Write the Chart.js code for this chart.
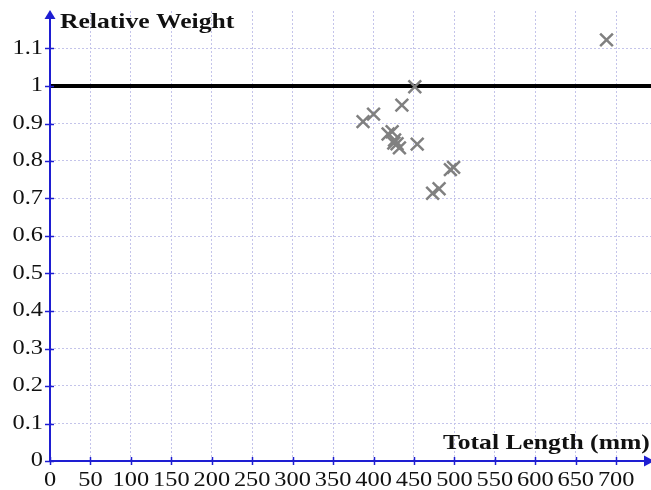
<!DOCTYPE html>
<html>
<head>
<meta charset="utf-8">
<script src="https://cdn.jsdelivr.net/npm/chart.js@4/dist/chart.umd.min.js"></script>
<style>
html,body{margin:0;padding:0;background:#fff;}
#wrap{width:651px;height:490px;}
</style>
</head>
<body>
<div id="wrap"><canvas id="c" width="651" height="490"></canvas></div>
<script>
// Data
const totalLength = [387, 400, 435, 451, 418, 423, 426, 429, 432, 425, 454, 473, 481, 495, 499, 688];
const relativeWeight = [0.905, 0.925, 0.949, 0.998, 0.872, 0.878, 0.856, 0.846, 0.835, 0.848, 0.845, 0.714, 0.726, 0.777, 0.783, 1.123];
const referenceLevel = 1;
const xTitle = 'Total Length (mm)';
const yTitle = 'Relative Weight';
const xTicks = [0, 50, 100, 150, 200, 250, 300, 350, 400, 450, 500, 550, 600, 650, 700];
const yTicks = [0, 0.1, 0.2, 0.3, 0.4, 0.5, 0.6, 0.7, 0.8, 0.9, 1, 1.1];
const xRange = [0, 743];
const yRange = [0, 1.2];

const axisColor = '#1e1ed2';
const serif = '"Liberation Serif", "Times New Roman", serif';
const STRETCH = 1.22;

const points = totalLength.map((x, i) => ({x: x, y: relativeWeight[i]}));
const refLine = [{x: xRange[0], y: referenceLevel}, {x: xRange[1], y: referenceLevel}];

// draw tick labels horizontally stretched like the reference
function patchLabels(s) {
  if (s._stretchPatched) return;
  s._stretchPatched = true;
  s.drawLabels = function (chartArea) {
    const ctx = this.ctx;
    const items = this.getLabelItems(chartArea);
    for (const item of items) {
      const o = item.options;
      ctx.save();
      ctx.translate(o.translation[0], o.translation[1]);
      ctx.scale(STRETCH, 1);
      ctx.font = item.font.string;
      ctx.fillStyle = o.color;
      ctx.textAlign = o.textAlign;
      ctx.textBaseline = o.textBaseline;
      ctx.fillText(String(item.label), 0, item.textOffset);
      ctx.restore();
    }
  };
}

const axesPlugin = {
  id: 'axesPlugin',
  afterDatasetsDraw(chart) {
    const {ctx, chartArea: a, scales: {x, y}} = chart;
    ctx.save();
    ctx.strokeStyle = axisColor;
    ctx.lineWidth = 1.5;
    y.ticks.forEach(t => {
      const py = Math.round(y.getPixelForValue(t.value)) + 0.5;
      ctx.beginPath(); ctx.moveTo(a.left - 5, py); ctx.lineTo(a.left + 4, py); ctx.stroke();
    });
    x.ticks.forEach(t => {
      const px = Math.round(x.getPixelForValue(t.value)) + 0.5;
      ctx.beginPath(); ctx.moveTo(px, a.bottom - 4); ctx.lineTo(px, a.bottom + 4); ctx.stroke();
    });
    ctx.lineWidth = 2;
    ctx.beginPath();
    ctx.moveTo(a.left, a.bottom); ctx.lineTo(a.left, a.top + 6);
    ctx.moveTo(a.left, a.bottom); ctx.lineTo(a.right - 4, a.bottom);
    ctx.stroke();
    ctx.fillStyle = axisColor;
    ctx.beginPath();
    ctx.moveTo(a.left, a.top - 1); ctx.lineTo(a.left - 5.5, a.top + 8); ctx.lineTo(a.left + 5.5, a.top + 8); ctx.closePath(); ctx.fill();
    ctx.beginPath();
    ctx.moveTo(a.right + 3, a.bottom); ctx.lineTo(a.right - 7, a.bottom - 5.5); ctx.lineTo(a.right - 7, a.bottom + 5.5); ctx.closePath(); ctx.fill();
    // titles
    ctx.fillStyle = '#111';
    ctx.font = 'bold 21px ' + serif;
    ctx.textBaseline = 'alphabetic';
    ctx.textAlign = 'left';
    ctx.save(); ctx.translate(a.left + 10, 28); ctx.scale(STRETCH, 1); ctx.fillText(yTitle, 0, 0); ctx.restore();
    ctx.save(); ctx.translate(443, 449); ctx.scale(STRETCH, 1); ctx.fillText(xTitle, 0, 0); ctx.restore();
    ctx.restore();
  }
};

new Chart(document.getElementById('c'), {
  type: 'scatter',
  data: {
    datasets: [
      {
        type: 'line',
        data: refLine,
        borderColor: '#000',
        borderWidth: 4,
        pointRadius: 0,
        fill: false,
        order: 2
      },
      {
        data: points,
        pointStyle: 'crossRot',
        pointRadius: 9,
        pointHoverRadius: 9,
        borderColor: '#808080',
        backgroundColor: '#808080',
        pointBorderWidth: 2.5,
        borderWidth: 2.5,
        order: 1
      }
    ]
  },
  options: {
    responsive: false,
    animation: false,
    events: [],
    layout: {autoPadding: false, padding: {top: 11, right: 0, left: 0, bottom: 0}},
    plugins: {legend: {display: false}, tooltip: {enabled: false}},
    scales: {
      x: {
        type: 'linear',
        min: xRange[0], max: xRange[1],
        afterBuildTicks(s) { s.ticks = xTicks.map(v => ({value: v})); },
        afterFit(s) { s.height = 29; s.paddingLeft = 0; s.paddingRight = 0; patchLabels(s); },
        ticks: {
          autoSkip: false, maxRotation: 0, minRotation: 0, padding: 8,
          color: '#111', font: {family: serif, size: 20},
          callback: v => String(v)
        },
        grid: {color: '#c4c4ea', lineWidth: 1, drawTicks: false},
        border: {display: false, dash: [2, 2]}
      },
      y: {
        type: 'linear',
        min: yRange[0], max: yRange[1],
        afterBuildTicks(s) { s.ticks = yTicks.map(v => ({value: v})); },
        afterFit(s) { s.width = 50; s.paddingTop = 0; s.paddingBottom = 0; patchLabels(s); },
        ticks: {
          autoSkip: false, padding: 7,
          color: '#111', font: {family: serif, size: 20},
          callback: v => String(Math.round(v * 10) / 10)
        },
        grid: {color: '#c4c4ea', lineWidth: 1, drawTicks: false},
        border: {display: false, dash: [2, 2]}
      }
    }
  },
  plugins: [axesPlugin]
});
</script>
</body>
</html>
